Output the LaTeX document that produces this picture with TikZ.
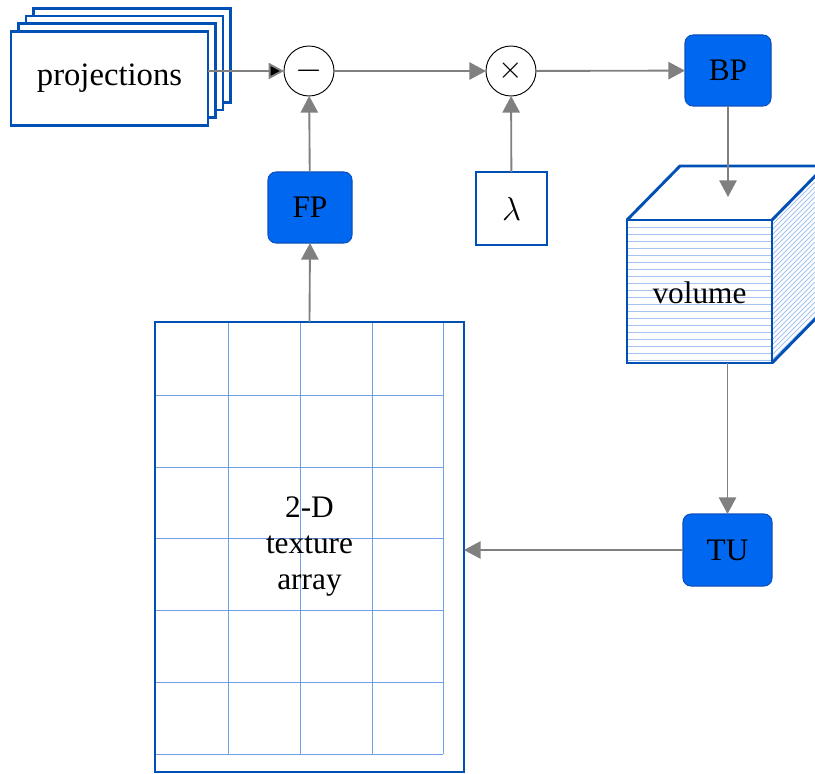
\documentclass[tikz,border=0pt]{standalone}
\usepackage{fontspec}
\usepackage{graphicx}
\setmainfont{Liberation Serif}
\usetikzlibrary{arrows.meta,calc}
\definecolor{edgeblue}{RGB}{0,80,182}
\definecolor{unitblue}{RGB}{0,104,240}
\definecolor{unitedge}{RGB}{10,80,190}
\definecolor{hatchblue}{RGB}{165,195,238}
\definecolor{gridblue}{RGB}{80,135,225}
\definecolor{flowgray}{RGB}{128,128,128}
\begin{document}
\begin{tikzpicture}[x=0.75pt,y=-0.75pt,
  every node/.style={font=\fontsize{23.5}{27}\selectfont, outer sep=0pt, inner sep=0pt},
  outlined/.style={draw=edgeblue, line width=2.2pt, fill=white},
  unit/.style={draw=unitedge, line width=0.8pt, fill=unitblue, rounded corners=6pt,
               minimum height=53.25pt},
  op/.style={circle, draw=black, line width=0.7pt, fill=white, minimum size=37.5pt},
  flow/.style={draw=flowgray, line width=1.4pt,
               -{Triangle[length=12.5pt,width=13pt,fill=flowgray]}},
  hatch/.style={draw=hatchblue, line width=0.6pt},
  gridline/.style={draw=gridblue, line width=0.55pt, opacity=0.8}]
\useasboundingbox (0,0) rectangle (815,774);

% stack of projection sheets
\node[outlined, minimum width=147.75pt, minimum height=70.5pt] (p3) at (132,55.5) {};
\node[outlined, minimum width=147.75pt, minimum height=70.5pt] (p2) at (124.5,63) {};
\node[outlined, minimum width=147.75pt, minimum height=70.5pt] (p1) at (117,70.5) {};
\node[outlined, minimum width=147.75pt, minimum height=70.5pt, font=\fontsize{24.5}{27}\selectfont]
  (proj) at (109.5,78.5) {projections};

% operators
\node[op] (minus) at (309,71) {\scalebox{1.05}{$-$}};
\node[op] (times) at (511,71) {\scalebox{0.95}{$\times$}};

% processing units
\node[unit, minimum width=64.5pt] (bp) at (728,70.5) {BP};
\node[unit, minimum width=63pt] (fp) at (310,207.5) {FP};
\node[unit, minimum width=66.75pt, minimum height=54pt] (tu) at (727.5,550) {TU};

% relaxation factor
\node[outlined, minimum width=53.25pt, minimum height=54.75pt] (lam) at (511.5,208.5) {$\lambda$};

% volume cube: hatched faces
\fill[white] (627,220) -- (680,166) -- (825,166) -- (772,220) -- cycle;
\fill[white] (772,220) -- (825,166) -- (825,310) -- (772,364) -- cycle;
\foreach \c in {997,1002,...,1134} \draw[hatch] (772,\c-772) -- (825,\c-825);
\foreach \y in {227,234,...,360} \draw[hatch] (627,\y) -- (772,\y);
\node[draw=edgeblue, line width=2.2pt, minimum width=108.75pt, minimum height=107.25pt,
      text depth=0pt] (vol) at (699.5,291.5) {\raisebox{-2pt}{volume}};
\draw[edgeblue, line width=2.2pt, line join=round]
  (vol.north west) -- ++(53,-54) -- ++(160,0)
  (vol.north east) -- ++(53,-54)
  (vol.south east) -- ++(53,-54);
\coordinate (volin) at (728,197);

% texture array with its cell grid
\foreach \x in {228,300,372,443} \draw[gridline] (\x,322) -- (\x,754);
\foreach \y in {395,467,538,610,682,754} \draw[gridline] (155,\y) -- (443,\y);
\node[draw=edgeblue, line width=2.2pt, minimum width=231.75pt, minimum height=337.5pt,
      align=center] (tex) at (309.5,547)
  {2-D\\texture\\array};

% data flow
\draw[draw=flowgray, line width=1.4pt, -{Triangle[length=11.5pt,width=12pt,fill=black]}]
  (minus.west -| proj.east) -- (minus.west);
\draw[flow] (minus) -- (times);
\draw[flow] (times) -- (bp);
\draw[flow] (fp) -- (minus);
\draw[flow] (lam) -- (times);
\draw[flow] (bp) -- (volin);
\draw[flow] (tu.north |- vol.south) -- (tu.north);
\draw[flow] (tu.west) -- (tu.west -| tex.east);
\draw[flow] (tex.north) -- (fp.south);
\end{tikzpicture}
\end{document}
